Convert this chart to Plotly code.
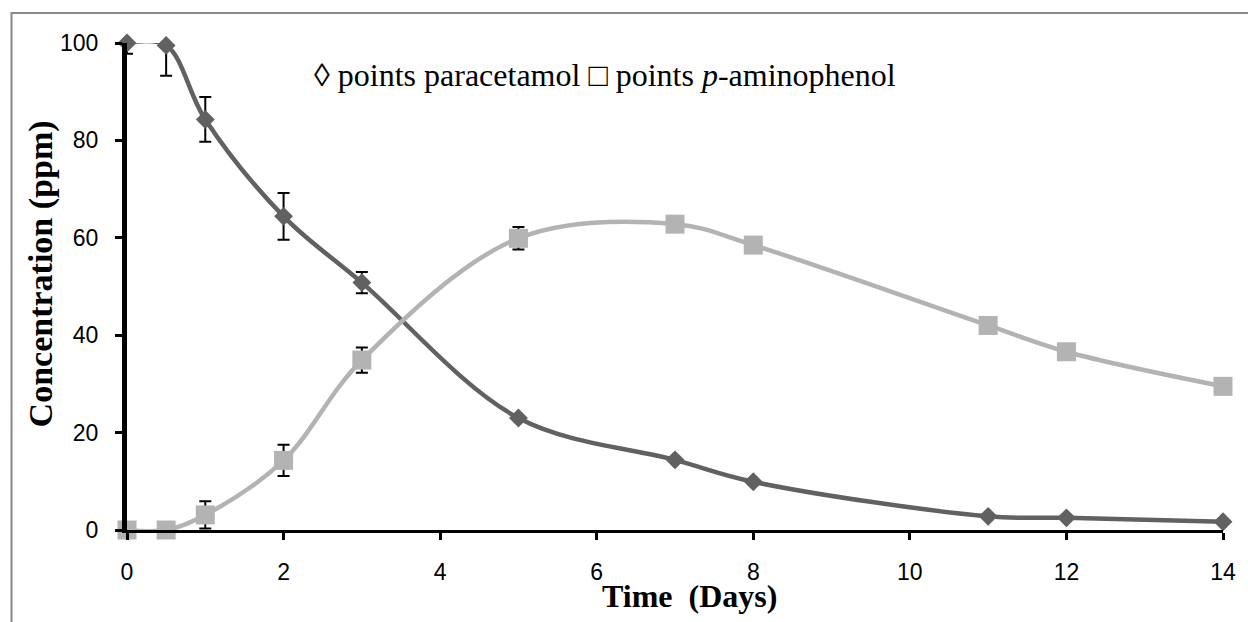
import plotly.graph_objects as go

# ---- data ----
days = [0, 0.5, 1, 2, 3, 5, 7, 8, 11, 12, 14]
paracetamol = [100, 99.5, 84.3, 64.4, 50.8, 23, 14.4, 9.9, 2.8, 2.5, 1.7]
para_err_plus = [0, 0, 4.6, 4.8, 2.2, None, None, None, None, None, None]
para_err_minus = [2.2, 6.2, 4.6, 4.8, 2.2, None, None, None, None, None, None]
aminophenol = [0, 0, 3.1, 14.3, 34.9, 59.9, 62.8, 58.5, 42, 36.6, 29.5]
amino_err = [None, None, 2.8, 3.2, 2.6, 2.3, None, None, None, None, None]
x_ticks = [0, 2, 4, 6, 8, 10, 12, 14]
y_ticks = [0, 20, 40, 60, 80, 100]

DARK = "#616161"
LIGHT = "#b3b3b3"

W, H = 1248, 622
ML, MR, MT, MB = 127, 20, 43, 92
PW, PH = W - ML - MR, H - MT - MB

fig = go.Figure()

fig.add_trace(go.Scatter(
    x=days, y=paracetamol, mode="lines+markers", name="paracetamol",
    line=dict(color=DARK, width=4.5, shape="spline", smoothing=1.0),
    marker=dict(symbol="diamond", size=14.5, color=DARK),
    error_y=dict(type="data", symmetric=False, array=para_err_plus,
                 arrayminus=para_err_minus, color="black", thickness=2, width=6),
    cliponaxis=False,
))
fig.add_trace(go.Scatter(
    x=days, y=aminophenol, mode="lines+markers", name="p-aminophenol",
    line=dict(color=LIGHT, width=4.5, shape="spline", smoothing=1.0),
    marker=dict(symbol="square", size=19, color=LIGHT),
    error_y=dict(type="data", array=amino_err, color="black", thickness=2, width=6),
    cliponaxis=False,
))

def px_to_paper_x(px):
    return (px - ML) / PW

def px_to_paper_y(py):
    return (H - MB - py) / PH

fig.update_layout(
    width=W, height=H,
    margin=dict(l=ML, r=MR, t=MT, b=MB),
    paper_bgcolor="white", plot_bgcolor="white",
    showlegend=False,
    xaxis=dict(
        range=[0, 14], tickvals=x_ticks, showgrid=False, zeroline=False,
        showline=True, linecolor="black", linewidth=3,
        ticks="outside", ticklen=7, tickwidth=3, tickcolor="black",
        tickfont=dict(family="Liberation Sans, Arial", size=23, color="black"),
        ticklabelstandoff=12,
    ),
    yaxis=dict(
        range=[0, 100], tickvals=y_ticks, showgrid=False, zeroline=False,
        showline=True, linecolor="black", linewidth=5,
        ticks="outside", ticklen=7, tickwidth=3, tickcolor="black",
        tickfont=dict(family="Liberation Sans, Arial", size=23, color="black"),
        ticklabelstandoff=12,
    ),
    shapes=[dict(
        type="rect", xref="paper", yref="paper",
        x0=px_to_paper_x(11), x1=px_to_paper_x(1262),
        y0=px_to_paper_y(640), y1=px_to_paper_y(13),
        line=dict(color="#888888", width=2), fillcolor="rgba(0,0,0,0)",
        layer="below",
    )],
    annotations=[
        dict(text="<b>Concentration (ppm)</b>", xref="paper", yref="paper",
             x=px_to_paper_x(41), y=px_to_paper_y(274), textangle=-90,
             showarrow=False, xanchor="center", yanchor="middle",
             font=dict(family="Liberation Serif, Times New Roman", size=34, color="black")),
        dict(text="<b>Time  (Days)</b>", xref="paper", yref="paper",
             x=px_to_paper_x(692), y=px_to_paper_y(596),
             showarrow=False, xanchor="center", yanchor="middle",
             font=dict(family="Liberation Serif, Times New Roman", size=32, color="black")),
        dict(text="\u25ca points paracetamol \u25a1 points <i>p</i>-aminophenol",
             xref="paper", yref="paper",
             x=px_to_paper_x(313), y=px_to_paper_y(75),
             showarrow=False, xanchor="left", yanchor="middle",
             font=dict(family="Liberation Serif, Times New Roman", size=32, color="black")),
    ],
)

fig.write_html("out.html")
